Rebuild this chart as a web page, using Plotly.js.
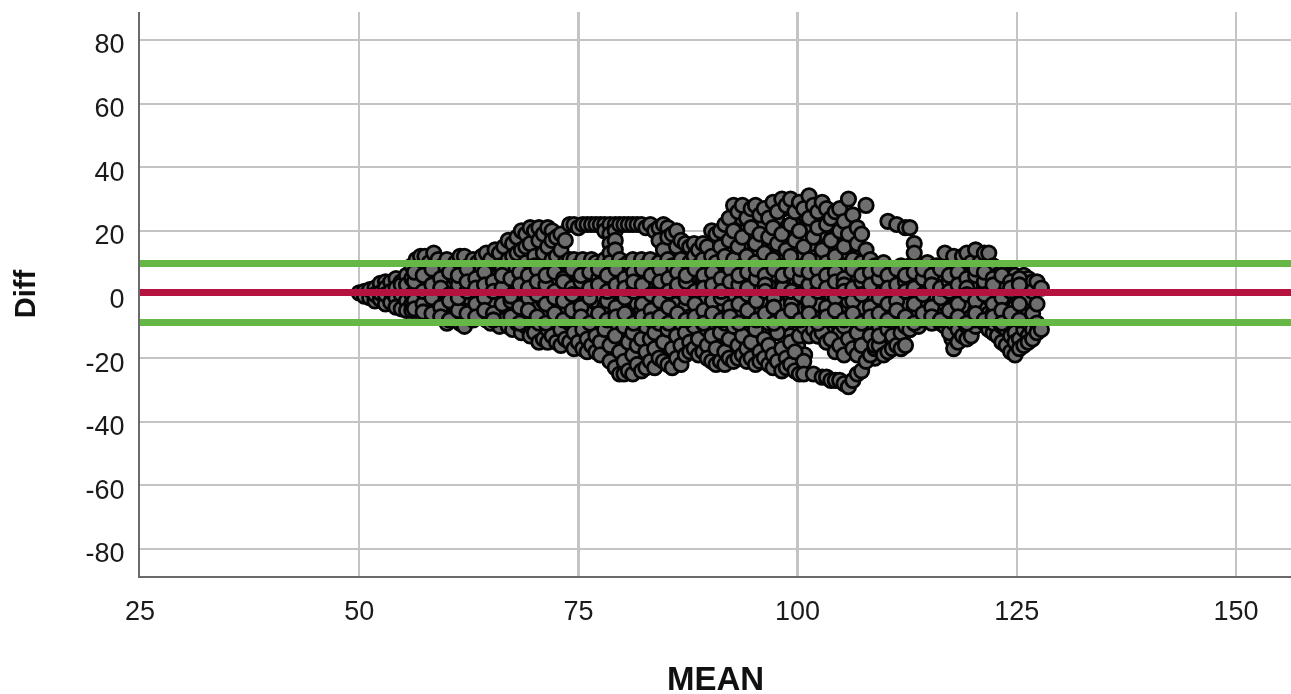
<!DOCTYPE html>
<html>
<head>
<meta charset="utf-8">
<script src="https://cdn.plot.ly/plotly-3.0.1.min.js"></script>
<style>
html,body{margin:0;padding:0;background:#fff;overflow:hidden;height:694px}
#plot{width:1291px;height:720px;filter:blur(0.7px)}
</style>
</head>
<body>
<div id="plot"></div>
<script>
const xTicks = [25, 50, 75, 100, 125, 150];
const yTicks = [-80, -60, -40, -20, 0, 20, 40, 60, 80];
const meanRefDiff = 0.6;
const upperLimitDiff = 9.7;
const lowerLimitDiff = -8.8;
const refLineMeans = [25, 157];

const coreMeans = [
55.2,56,56.8,57.6,58.4,59.2,60,60.8,61.6,62.4,63.2,64,64.8,65.6,66.4,67.2,68,68.8,69.6,70.4,
71.2,72,72.8,73.6,74.4,75.2,76,76.8,77.6,78.4,79.2,80,80.8,81.6,82.4,83.2,84,84.8,85.6,86.4,
87.2,88,88.8,89.6,90.4,91.2,92,92.8,93.6,94.4,95.2,96,96.8,97.6,98.4,99.2,100,100.8,101.6,102.4,
103.2,104,104.8,105.6,106.4,107.2,108,108.8,109.6,110.4,111.2,112,112.8,113.6,114.4,115.2,116,116.8,117.6,118.4,
119.2,120,120.8,121.6,122.4,123.2,124,124.8,125.6,126.4
];

const coreDiffs = [
[2,-1,-3],[3,0,-2,5],[7,1,-3,4],[5,-1,-4,9],[3,7,-2,-4,1],[6,1,-3,-5,9],[4,8,-1,-6,2],[7,3,-2,-5,0],[5,9,-3,-7,1],[6,2,-1,-5,8],
[4,8,0,-3,-6],[7,2,-2,-6,10],[5,1,-4,-8,9],[3,7,-1,-6,11],[6,10,1,-4,-7],[8,2,-2,-9,13],[5,11,0,-5,-8],[9,3,-3,-7,15],[6,12,-1,-10,2],[10,4,-6,-11,17],
[7,1,-4,-9,14],[11,3,-2,-7,-12],[5,9,-5,-10,16],[8,1,-3,-12,4],[6,10,-1,-7,-13],[2,8,-5,-10,-14],[7,-2,-9,4,-13],[6,1,-4,-11,-15],[9,3,-7,-12,-16],[5,-2,-9,-14,7],
[8,2,-5,-11,-17],[6,0,-3,-13,-19],[9,3,-7,-15,-20],[7,-1,-5,-12,-18],[5,1,-9,-16,-21],[8,-3,-6,-13,-19],[10,3,-8,-14,-18],[6,15,1,-6,-12],[9,13,-2,-9,-16],[5,16,-1,-7,-14],
[8,12,2,-5,-11],[6,13,-3,-8,-15],[10,1,-6,-13,-16],[7,12,-2,-9,-15],[5,16,1,-6,-12],[9,14,-3,-10,-18],[7,18,2,-7,-16],[11,22,-1,-8,-13],[6,15,24,-5,-15],[9,19,1,-12,-18],
[5,13,25,-3,-10],[8,17,22,-7,-14],[3,12,26,-2,-17],[9,20,24,-5,-11],[6,15,27,-9,-19],[10,18,1,-13,-21],[4,13,24,-6,-16],[8,21,25,-3,-19],[6,16,28,-10,-5],[11,19,3,-7,-9],
[5,14,23,-1,-11],[9,18,25,-6,-8],[3,15,21,-4,-12],[7,12,24,-9,-17],[4,10,17,-2,-13],[8,13,1,-7,-15],[5,9,-3,-11,-18],[7,2,-6,-14,-20],[4,8,-1,-9,-15],[6,1,-4,-12,-16],
[8,3,-6,-10,-14],[5,-1,-7,-13,0],[7,2,-3,-8,-11],[4,8,-5,-9,0],[6,1,-2,-7,3],[8,3,-4,-6,0],[5,7,-1,-8,2],[6,2,-3,-7,4],[8,1,-5,-11,-14],[5,10,-2,-9,-13],
[7,3,-4,-10,-7],[6,11,1,-6,-9],[8,3,-2,-7,0],[5,11,-4,-10,1],[7,2,-1,-6,-11],[4,0,-3,-9,-14],[5,2,-6,-11,-16],[4,-2,-7,-13,-17],[3,-1,-9,-12,-15],[2,-4,-8,-11,-13]
];

const meanColumns = [
50,50.6,51.2,51.8,52.4,53,53.6,54.2,54.8,55.4,56,56.5,57,57.5,58,58.5,59,59.5,60,60.5,
61,61.5,62,62.5,63,63.5,64,64.5,65,65.5,66,66.5,67,67.5,68,68.5,69,69.5,70,70.5,
71,71.5,72,72.5,73,73.5,74,74.5,75,75.5,76,76.5,77,77.5,78,78.6,79.2,79.7,80.2,80.7,
81.2,81.7,82.2,82.7,83.2,83.7,84.2,84.7,85.2,85.7,86.2,86.7,87.2,87.7,88.2,88.7,89.2,89.7,90.2,90.7,
91.2,91.7,92.2,92.7,93.2,93.7,94.2,94.7,95.2,95.7,96.2,96.7,97.2,97.7,98.2,98.7,99.2,99.7,100.2,100.7,
101.3,101.8,102.3,102.8,103.3,103.8,104.3,104.8,105.3,105.8,106.3,106.8,107.3,107.8,108.3,108.8,109.3,109.8,110.3,110.8,
111.3,111.8,112.3,112.8,113.3,113.8,114.3,114.8,115.3,115.8,116.3,116.8,117.3,117.8,118.3,118.8,119.3,119.8,120.3,120.8,
121.3,121.8,122.3,122.8,123.3,123.8,124.3,124.8,125.3,125.8,126.3,126.8,127.3,127.8
];

const diffColumns = [
[0.5],[1,-0.5],[-1,1.5],[-2,2,0],[3.5,-1.5,0.5],[4,2,-3,0],[4,-2.5,1],[5,2,-1,-4],[4,0,-4.5,3],[6,3,-2,-5],
[9,5,0,-3,-5],[11,4,-1,-5,7],[12,6,2,-4],[12,8,-2,-5,3],[10,0,5,-3.5],[13,7,2,-5],[11,-1,4,-6,8],[9,3,-4,-7],[11,6,0,-9,-3],[8,2,-5,-7],
[10,5,-2,-8,-4],[12,7,1,-9,3],[12,4,-3,-10,-6],[9,6,0,-7,-1],[11,3,-5,-8,7],[10,5,1,-4,-7],[12,8,-2,-6,3],[13,6,0,-8,-4],[11,2,-5,-9,8],[14,7,3,-3,-7],
[13,9,1,-6,-10,5],[15,6,-2,-8,3],[17,11,4,-4,-10],[16,8,0,-6,-11,12],[18,13,5,-2,-9],[20,14,7,1,-7,-12],[19,10,3,-4,-10,15],[21,16,6,-1,-8,-13],[20,12,2,-5,-12,9],[21,17,8,-3,-9,-15],
[19,13,5,-2,-7,-14],[21,15,9,0,-11,-15],[20,17,6,-4,-13,11],[18,12,3,-8,-15,-1],[19,14,7,-3,-11,-16],[17,10,1,-6,-14,5],[22,11,8,-2,-9,-15],[22,11,4,-5,-12,-17],[21,9,0,-8,-15,6],[22,11,5,-3,-11,-17],
[22,8,-1,-6,-14,-18],[22,11,3,-9,-16,7],[22,10,5,-2,-13,-18],[22,9,0,-7,-15,-19],[22,20,11,4,-4,-11],[22,19,16,13,10,1,-16,-21],[22,20,17,14,7,-6,-13,-23],[22,11,4,-3,-18,-25],[22,9,-1,-10,-21,-25],[22,10,5,-6,-15,-24],
[22,11,2,-12,-19,-25],[22,8,-3,-8,-22,-16],[22,11,5,-5,-14,-24],[21,9,0,-10,-18,-23],[22,11,3,-7,-21,-14],[20,7,-2,-12,-17,-23],[21,17,10,4,-9,-20],[22,14,7,-5,-15,-21],[21,18,11,0,-11,-22],[19,9,3,-6,-17,-23],
[20,15,6,-3,-13,-20],[17,11,1,-9,-16,-22],[16,8,-4,-12,-19,3],[15,10,4,-7,-15,-18],[16,6,0,-10,-17,12],[14,9,2,-5,-14,-19],[16,11,-2,-9,-18,5],[15,7,3,-11,-16,-20],[20,12,5,-4,-13,-21],[19,10,0,-7,-17,-22],
[20,15,6,-3,-12,-21],[22,12,3,-9,-18,-22],[24,17,8,-1,-14,-20],[28,20,11,3,-10,-21],[26,15,6,-5,-16,-20],[28,18,9,0,-13,-19],[24,12,2,-8,-17,-21],[27,21,7,-3,-15,-20],[28,16,10,1,-11,-22],[25,19,5,-6,-18,-21],
[27,13,8,-2,-14,-20],[24,18,3,-9,-16,-22],[29,21,11,-4,-19,-23],[26,16,6,0,-12,-21],[30,19,9,-7,-17,-24],[28,14,4,-3,-20,-23],[30,22,12,-1,-15,-22],[26,17,7,-8,-18,-24],[29,20,2,-5,-13,-25],[27,15,9,-10,-21,-25],
[31,24,11,0,-13,-4],[28,18,5,-7,-11,-25],[26,21,8,-3,-13,-13],[29,14,1,-9,-12,-26],[27,22,10,-5,-15,-26],[24,17,4,0,-14,-27],[26,12,7,-8,-18,-27],[27,20,2,-4,-16,-27],[23,15,9,-10,-19,-28],[30,19,5,-2,-14,-29],
[25,11,0,-7,-17,-27],[21,16,6,-12,-19,-25],[19,10,2,-4,-16,-24],[28,14,7,-9,-21],[11,3,-2,-13,-19],[9,5,-6,-17,-16],[7,1,-10,-16,-13],[10,4,-3,-8,-19],[23,8,0,-11,-18],[7,3,-5,-13,-17],
[22,5,-1,-8,-16],[9,2,-6,-12,-17],[21,6,-3,-10,-16],[21,9,1,-7,-11],[16,13,5,-4,-9],[8,2,-6,-10],[7,4,-2,-8],[10,5,0,-6],[8,3,-4,-9],[9,6,-1,-7],
[8,2,-5,-9],[13,6,-3,-10],[9,4,0,-7,-12],[12,7,-4,-9,-17],[8,2,-6,-11,-15],[12,5,-1,-8,-13],[13,3,-4,-10,-14],[10,6,0,-7,-13],[14,4,-5,-10,-8],[10,7,-2,-8],
[13,3,-4,-9],[13,5,-1,-6,-11],[9,2,-6,-12,-9],[6,4,-3,-8,-13],[7,1,-5,-10,-15],[5,3,-2,-11,-16],[6,-1,-7,-13,-18],[6,3,-4,-12,-19,-15],[5,0,-8,-14,-17],[6,2,-5,-11,-16],
[5,-1,-9,-13,-15],[4,1,-6,-11,-14],[4,-3,-9,-12],[2,-11]
];

const bandMeans = [
56.3,57.3,58.3,59.3,60.3,61.3,62.3,63.3,64.3,65.3,66.3,67.3,68.3,69.3,70.3,71.3,72.3,73.3,74.3,75.3,
76.3,77.3,78.3,79.3,80.3,81.3,82.3,83.3,84.3,85.3,86.3,87.3,88.3,89.3,90.3,91.3,92.3,93.3,94.3,95.3,
96.3,97.3,98.3,99.3,100.3,101.3,102.3,103.3,104.3,105.3,106.3,107.3,108.3,109.3,110.3,111.3,112.3,113.3,114.3,115.3,
116.3,117.3,118.3,119.3,120.3,121.3,122.3,123.3,124.3,125.3
];

const bandDiffs = [
[4,-2,-4.5,7],[6,-3,1,-5.5],[8,3,-1,-6],[5,-4,2,-7],[7,0,-2,-8],[3,-5,6,-1],[8,1,-6,4],[5,-3,-7,2],[7,-1,-5,3],[4,-6,1,-8],
[8,2,-3,6],[5,-2,-7,-0.5],[7,3,-4,-9],[6,-1,-5,2],[8,0,-7,4],[3,-3,-9,6],[7,1,-6,-1],[5,-2,-8,4],[8,2,-5,0],[4,-4,-7,6],
[7,-1,-9,2],[5,3,-6,8],[6,-2,-8,1],[8,3,-4,-7],[5,-1,-6,2],[7,1,-9,4],[3,-3,-7,8],[6,0,-5,-8],[8,4,-2,-7],[5,-4,1,-9],
[7,2,-6,3],[4,-1,-8,6],[8,1,-3,-7],[6,-5,2,-9],[7,3,-2,-6],[5,-1,-8,1],[8,4,-4,-7],[3,-3,-9,6],[7,0,-5,2],[5,-2,-8,8],
[6,3,-6,1],[8,-1,-4,-9],[4,2,-7,6],[7,-3,-5,1],[5,0,-8,8],[3,-2,-6,7],[8,1,-9,4],[6,-4,2,-7],[7,-1,-5,4],[5,3,-8,1],
[8,-2,-6,2],[4,0,-9,6],[7,3,-4,-7],[5,-1,-6,8],[6,2,-8,-3],[8,-2,-5,3],[4,1,-7,6],[7,-3,-9,2],[5,0,-6,8],[6,3,-4,-7],
[8,-1,-8,2],[4,1,-5,6],[7,-3,-7,3],[5,2,-9,0],[6,-2,-6,8],[4,0,-8,7],[5,3,-3,-7],[6,-1,-5,-9],[4,1,-6,2],[5,-3,-8,3]
];

const meanValues = [];
const diffValues = [];
coreMeans.forEach((m, i) => {
  coreDiffs[i].forEach(d => { meanValues.push(m); diffValues.push(d); });
});
meanColumns.forEach((m, i) => {
  diffColumns[i].forEach(d => { meanValues.push(m); diffValues.push(d); });
});
bandMeans.forEach((m, i) => {
  bandDiffs[i].forEach(d => { meanValues.push(m); diffValues.push(d); });
});

const traces = [
  {type:'scatter', mode:'markers', x:meanValues, y:diffValues, hoverinfo:'skip',
   marker:{size:14.4, color:'#6e6e6e', line:{color:'#050505', width:2.8}}},
  {type:'scatter', mode:'lines', x:refLineMeans, y:[upperLimitDiff, upperLimitDiff], line:{color:'#66b846', width:7}},
  {type:'scatter', mode:'lines', x:refLineMeans, y:[lowerLimitDiff, lowerLimitDiff], line:{color:'#66b846', width:7}},
  {type:'scatter', mode:'lines', x:refLineMeans, y:[meanRefDiff, meanRefDiff], line:{color:'#b5123f', width:7}}
];

const layout = {
  width:1291, height:720, showlegend:false,
  paper_bgcolor:'#fff', plot_bgcolor:'#fff',
  margin:{l:140, r:0, t:12, b:144, pad:0},
  font:{family:'"Liberation Sans", Arial, sans-serif', color:'#1a1a1a'},
  xaxis:{range:[25, 156.27], tickmode:'array', tickvals:xTicks, ticktext:xTicks.map(String),
    showgrid:true, gridcolor:'#c4c4c4', gridwidth:2.5, zeroline:false,
    showline:true, linecolor:'#6a6a6a', linewidth:2, ticks:'', ticklen:0, tickfont:{size:27}, ticklabelstandoff:10,
    title:{text:'<b>MEAN</b>', font:{size:33, color:'#111'}, standoff:41}},
  yaxis:{range:[-88.5, 88.8], tickmode:'array', tickvals:yTicks, ticktext:yTicks.map(String),
    showgrid:true, gridcolor:'#c4c4c4', gridwidth:2, zeroline:false,
    showline:true, linecolor:'#6a6a6a', linewidth:2, ticks:'', ticklen:0, tickfont:{size:27}, ticklabelstandoff:8, ticklabelshift:4,
    title:{text:'<b>Diff</b>', font:{size:29, color:'#111'}, standoff:41}}
};

Plotly.newPlot('plot', traces, layout, {staticPlot:true, displayModeBar:false});
</script>
</body>
</html>
